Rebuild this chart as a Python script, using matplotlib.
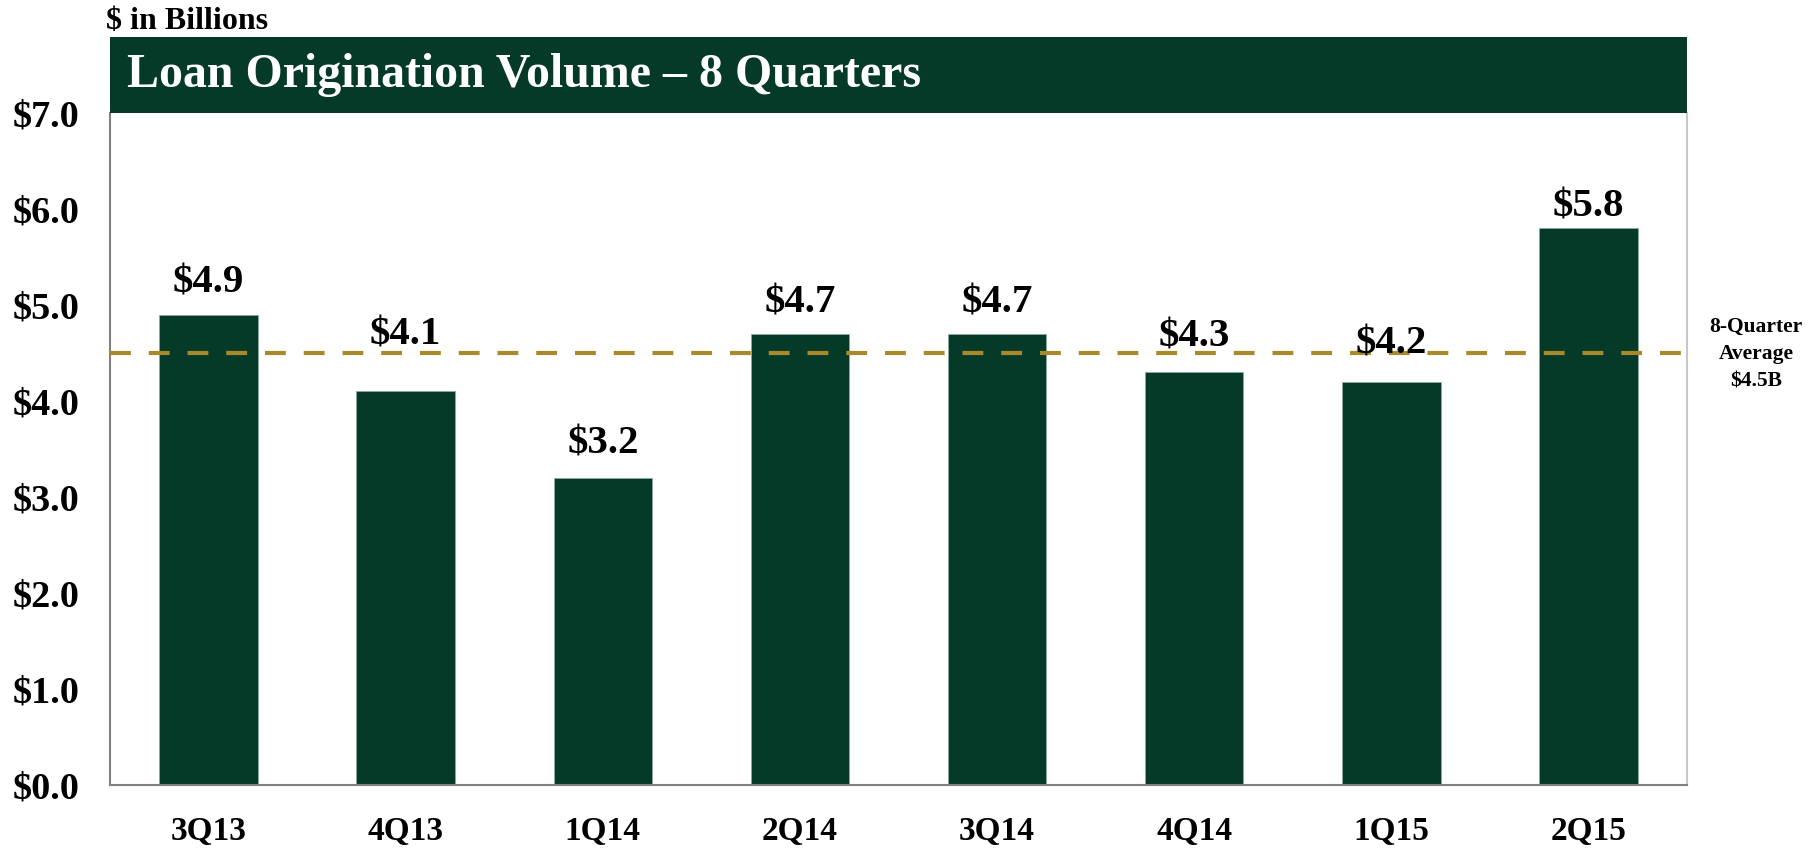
import matplotlib

matplotlib.use("Agg")

import matplotlib.pyplot as plt
from matplotlib.patches import Rectangle

QUARTERS = ["3Q13", "4Q13", "1Q14", "2Q14", "3Q14", "4Q14", "1Q15", "2Q15"]
VOLUME = [4.9, 4.1, 3.2, 4.7, 4.7, 4.3, 4.2, 5.8]
AVERAGE = 4.5
Y_TICKS = [0, 1, 2, 3, 4, 5, 6, 7]

# how far each value label sits above its bar (hand-placed in the original)
LABEL_LIFT = [0.14, 0.40, 0.16, 0.13, 0.13, 0.17, 0.20, 0.03]

GREEN = "#063a28"
GOLD = "#a8892b"
FONT = "Liberation Serif"

plt.rcParams["font.family"] = FONT
plt.rcParams["font.weight"] = "bold"

fig = plt.figure(figsize=(18.15, 8.48), dpi=100)
ax = fig.add_axes([0.0606, 0.0743, 0.8689, 0.7924])

x = range(len(QUARTERS))
ax.bar(x, VOLUME, width=0.5, color=GREEN, edgecolor="#8fa8a0", linewidth=0.6, zorder=2)

ax.axhline(AVERAGE, color=GOLD, linewidth=3, dashes=(5, 4.3), zorder=3)

for i, v in enumerate(VOLUME):
    ax.text(i, v + LABEL_LIFT[i], f"${v:.1f}", ha="center", va="bottom",
            fontsize=29.5, fontweight="bold", zorder=4)

ax.set_xlim(-0.5, len(QUARTERS) - 0.5)
ax.set_ylim(0, 7)
ax.set_xticks(list(x))
ax.set_xticklabels(QUARTERS, fontsize=24, fontweight="bold")
ax.set_yticks(Y_TICKS)
ax.set_yticklabels([f"${t:.1f}" for t in Y_TICKS], fontsize=27.5, fontweight="bold")
ax.tick_params(axis="both", length=0)
ax.tick_params(axis="x", pad=22)
ax.tick_params(axis="y", pad=22)

for side in ["left", "bottom"]:
    ax.spines[side].set_color("#808080")
    ax.spines[side].set_linewidth(1.5)
ax.spines["right"].set_color("#c8c8c8")
ax.spines["right"].set_linewidth(1.5)
ax.spines["top"].set_visible(False)

# title banner across the top of the plot area
fig.patches.append(Rectangle((0.0606, 0.8667), 0.8689, 0.0897, transform=fig.transFigure,
                             facecolor=GREEN, edgecolor="none"))
fig.text(0.070, 0.9116, "Loan Origination Volume \u2013 8 Quarters", color="white",
         fontsize=34.5, fontweight="bold", va="center", ha="left")
fig.text(0.0585, 0.975, "$ in Billions", fontsize=23, fontweight="bold", va="center", ha="left")

fig.text(0.9675, 0.5825, "8-Quarter\nAverage\n$4.5B", fontsize=15.5, fontweight="bold",
         ha="center", va="center", linespacing=1.5)

fig.savefig("out.png", dpi=100)
